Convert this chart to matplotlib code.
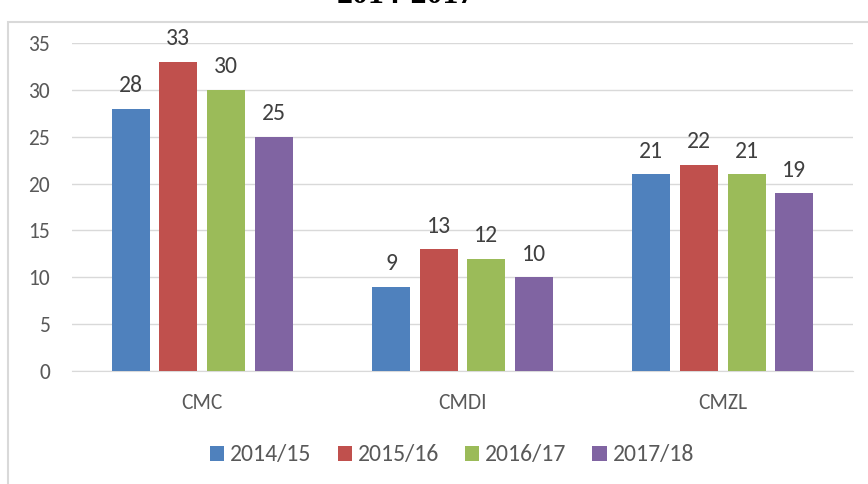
import numpy as np
import matplotlib
matplotlib.use("Agg")
import matplotlib.pyplot as plt
from matplotlib.patches import Rectangle

categories = ["CMC", "CMDI", "CMZL"]
seasons = ["2014/15", "2015/16", "2016/17", "2017/18"]
v_2014 = [28, 9, 21]
v_2015 = [33, 13, 22]
v_2016 = [30, 12, 21]
v_2017 = [25, 10, 19]
colors = ["#4F81BD", "#C0504D", "#9BBB59", "#8064A2"]

series = [v_2014, v_2015, v_2016, v_2017]

plt.rcParams["font.family"] = ["Carlito", "Liberation Sans", "DejaVu Sans"]
fig = plt.figure(figsize=(8.68, 4.84), dpi=100)
ax = fig.add_axes([72 / 868, 1 - 371 / 484, 781 / 868, 328 / 484])

# chart border (cut at right and bottom in the reference)
fig.patches.append(Rectangle((8 / 868, -0.1), 1.2, 1 - 22 / 484 + 0.1,
                             transform=fig.transFigure, fill=False,
                             edgecolor="#d9d9d9", linewidth=1.5))
# title is cut off at the top edge, as in the reference
fig.text(406 / 868, 1 - 3 / 484, "2014-2017", ha="center", va="baseline",
         fontsize=23, fontweight="bold", family="Liberation Serif")

x = np.arange(len(categories))
pitch = 0.183
width = 0.146
for i, (vals, lab, c) in enumerate(zip(series, seasons, colors)):
    pos = x + (i - 1.5) * pitch
    bars = ax.bar(pos, vals, width, color=c, label=lab, zorder=3)
    for b, v in zip(bars, vals):
        ax.text(b.get_x() + b.get_width() / 2, v + 1.75, str(v), ha="center",
                va="baseline", fontsize=17, color="#404040")

ax.set_xlim(-0.5, 2.5)
ax.set_ylim(0, 35)
ax.set_yticks(range(0, 36, 5))
ax.yaxis.grid(True, color="#d9d9d9", linewidth=1, zorder=0)
ax.set_xticks(x)
ax.set_xticklabels(categories)
ax.tick_params(axis="both", length=0, labelsize=15.5, colors="#595959")
ax.tick_params(axis="x", pad=16)
ax.tick_params(axis="y", pad=16)
for s in ["top", "right", "left"]:
    ax.spines[s].set_visible(False)
ax.spines["bottom"].set_color("#d9d9d9")
ax.set_facecolor("none")

leg = fig.legend(loc="center", bbox_to_anchor=(452 / 868, 1 - 455 / 484), ncol=4,
                 frameon=False, fontsize=17, handlelength=0.6, handleheight=0.6,
                 handletextpad=0.25, columnspacing=1.1)
for t in leg.get_texts():
    t.set_color("#595959")

fig.savefig("out.png", dpi=100)
